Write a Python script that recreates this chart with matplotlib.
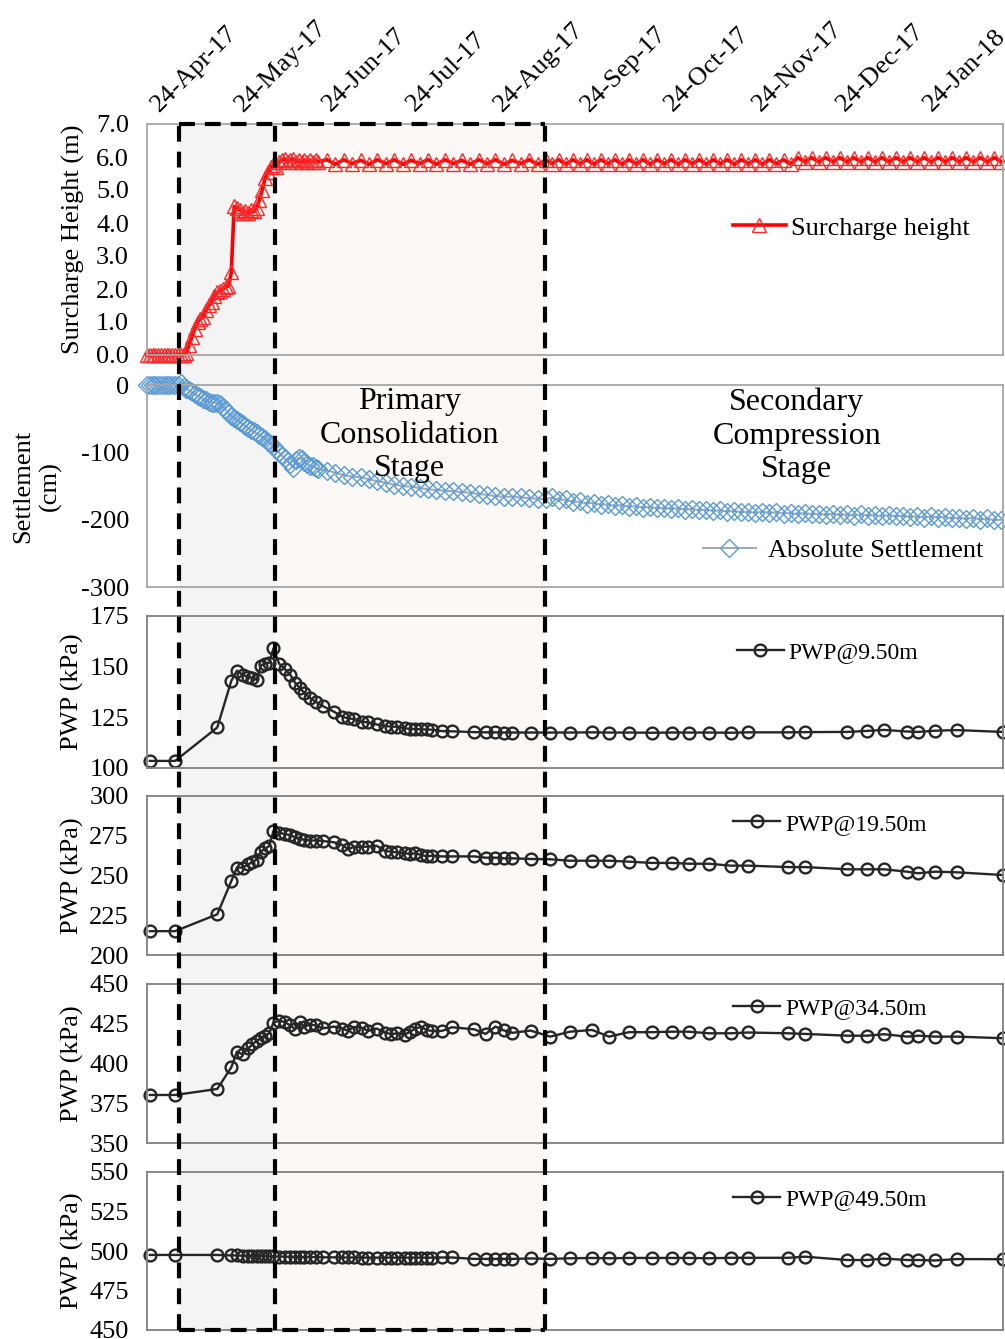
import numpy as np
import matplotlib
matplotlib.use("Agg")
import matplotlib.pyplot as plt
import matplotlib.dates as mdates
from datetime import datetime

plt.rcParams['font.family'] = ['Liberation Serif', 'DejaVu Serif']

# Origine des jours (24-Apr-17)
t0 = mdates.date2num(datetime(2017, 4, 24))

# Jours de mesure (surcharge + tassement)
mon_days = [0, 1, 2, 3, 4, 5, 6, 7, 8, 9, 10, 11, 12, 13,
            14, 15, 16, 17, 18, 19, 20, 21, 22, 23,
            24, 25, 26, 27, 28, 29, 30, 31, 32, 33,
            34, 35, 36, 37, 38, 39, 40, 41, 42, 43,
            44, 45, 46, 47, 48, 49, 50, 51, 52, 53,
            54, 55, 56, 57, 58, 59, 60, 61,
            64, 67, 70, 73, 76, 79, 82, 85, 88, 91, 94, 97, 100, 103,
            106, 109, 112, 115, 118, 121, 124, 127, 130, 133, 136, 139, 142,
            144, 146.5, 149, 151.5, 154, 156.5, 159, 161.5, 164, 166.5,
            169, 171.5, 174, 176.5, 179, 181.5, 184, 186.5, 189, 191.5,
            194, 196.5, 199, 201.5, 204, 206.5, 209, 211.5, 214, 216.5,
            219, 221.5, 224, 226.5, 229, 231.5, 234, 236.5, 239, 241.5,
            244, 246.5, 249, 251.5, 254, 256.5, 259, 261.5, 264, 266.5,
            269, 271.5, 274, 276.5, 279, 281.5, 284, 286.5, 289, 291.5,
            294, 296.5, 299, 301.5, 304]

surcharge = [0, 0, 0, 0, 0, 0, 0, 0, 0, 0, 0, 0, 0, 0,
             0.05, 0.3, 0.55, 0.8, 1.0, 1.1, 1.15, 1.35, 1.5, 1.6,
             1.8, 1.9, 1.95, 2.0, 2.05, 2.1, 2.5, 4.5, 4.45, 4.4,
             4.3, 4.35, 4.3, 4.4, 4.35, 4.45, 4.7, 5.0, 5.35, 5.55,
             5.7, 5.75, 5.7, 5.85, 5.9, 5.95, 5.85, 5.9, 5.95, 5.85,
             5.9, 5.85, 5.9, 5.85, 5.9, 5.85, 5.9, 5.85,
             5.92, 5.78, 5.92, 5.8, 5.9, 5.78, 5.92, 5.8, 5.92, 5.78, 5.9, 5.8, 5.92, 5.78,
             5.92, 5.8, 5.9, 5.78, 5.92, 5.8, 5.92, 5.78, 5.9, 5.8, 5.92, 5.78, 5.9,
             5.8, 5.92, 5.78, 5.92, 5.8, 5.92, 5.78, 5.92, 5.8, 5.92,
             5.78, 5.92, 5.8, 5.92, 5.78, 5.92, 5.8, 5.92, 5.78, 5.92,
             5.8, 5.92, 5.78, 5.92, 5.8, 5.92, 5.78, 5.92, 5.8, 5.92,
             5.78, 5.92, 5.8, 5.92, 5.78, 5.98, 5.86, 5.98, 5.86, 5.98,
             5.86, 5.98, 5.86, 5.98, 5.86, 5.98, 5.86, 5.98, 5.86, 5.98,
             5.86, 5.98, 5.86, 5.98, 5.86, 5.98, 5.86, 5.98, 5.86, 5.98,
             5.86, 5.98, 5.86, 5.98, 5.86]

settlement = [0, 0, 0, 0, 0, 0, 0, 0, 0, 0, 0, 0,
              3, -3, -6, -8, -11, -14, -16, -18, -21, -23,
              -25, -26, -26, -27, -28, -32, -37, -42, -46, -49,
              -52, -55, -58, -61, -64, -67, -69, -72, -74, -77,
              -80, -84, -87, -90, -96, -100, -105, -109, -113, -118,
              -123, -112, -108, -110, -114, -118, -120, -121, -123, -125,
              -127, -130, -134, -136, -137, -140, -143, -145, -148, -150, -151, -153, -155, -156,
              -157, -158, -159, -160, -162, -163, -165, -166, -166, -167, -168, -169, -170,
              -167, -171, -170, -174, -173, -176, -175, -178, -177, -180,
              -178, -181, -180, -182, -181, -183, -182, -184, -183, -185,
              -184, -186, -185, -187, -186, -188, -187, -189, -188, -190,
              -188, -190, -189, -191, -190, -192, -190, -192, -191, -193,
              -191, -193, -192, -194, -192, -194, -193, -195, -193, -195,
              -194, -196, -195, -197, -195, -197, -196, -198, -197, -199,
              -197, -200, -198, -201, -200]

# Pressions interstitielles (PWP)
pwp_days = [1, 10, 25, 30, 32, 34, 36, 37.5, 39, 40.5,
            42, 43.5, 45, 47, 49, 51, 52.7, 54.4, 56, 58,
            60, 62.5, 66.5, 69.5, 71.6, 73.5, 76.4, 78.7, 81.7, 84.7,
            87, 89, 91.8, 93.6, 95.5, 97.5, 99.5, 101.5, 105, 108.5,
            116.5, 120.5, 124, 127, 130, 136.5, 143.5, 150.5, 158.4, 164.4,
            171.5, 179.7, 186.8, 192.8, 199.9, 207.8, 213.9, 228.1, 234.2, 249.1,
            256.2, 262.3, 270.5, 274.4, 280.4, 288.3, 304.5]

pwp_950 = [103.5, 103.5, 120, 143, 148, 146, 145, 144.5, 143.5, 150.5,
           151.5, 152, 159, 151.5, 149, 146, 142, 139.5, 137, 134.5,
           132.7, 130.6, 127.8, 125.3, 124.5, 124.2, 122.8, 122.5, 121.5, 120.7,
           120.4, 120.4, 119.6, 119.3, 119.2, 119.1, 119, 118.9, 118.2, 118.1,
           117.7, 117.6, 117.6, 117.5, 117.5, 117.5, 117.5, 117.5, 117.6, 117.5,
           117.5, 117.4, 117.5, 117.5, 117.5, 117.4, 117.6, 117.6, 117.7, 117.8,
           118.3, 118.8, 118.0, 117.8, 118.4, 118.7, 117.8]

pwp_1950 = [215, 215, 225.6, 246.5, 255, 255, 257, 258.5, 260, 265,
            267, 268.5, 278, 277, 276, 275.5, 274, 273, 272.5, 272,
            272, 271.7, 270.9, 269.2, 266.5, 268, 268, 268.2, 268.7, 265.4,
            265, 264.5, 264, 263.5, 264, 263, 262, 262.5, 262, 262,
            262, 261.2, 261.2, 260.8, 260.8, 260.4, 260.2, 259.3, 259.3, 259.3,
            258.7, 257.9, 257.9, 257.4, 257.4, 256.2, 256.2, 255.3, 255.3, 253.9,
            253.9, 253.9, 252.4, 251.4, 252.4, 252, 250.3]

pwp_3450 = [380.2, 380.2, 384, 397.6, 407.4, 405.8, 409.5, 412, 414.3, 416,
            417.5, 419, 425.7, 427, 426, 424, 421.5, 426, 423, 424.5,
            424, 422.1, 423.2, 422, 420.5, 423, 422.5, 420.5, 422, 419.4,
            418.5, 419, 418.2, 420, 422, 423, 421, 420.5, 420.5, 422.8,
            421.5, 418.6, 423.2, 420.8, 419.3, 420.7, 416.9, 420, 421.1, 416.9,
            419.7, 419.7, 420, 420, 419, 419, 419.5, 419, 418.6, 417.5,
            417.5, 418.4, 416.9, 417.5, 416.9, 416.9, 415.9]

pwp_4950 = [497.5, 497.5, 497.5, 497.2, 497.2, 497, 497, 497, 496.8, 496.8,
            496.7, 496.6, 496.6, 496.5, 496.4, 496.4, 496.3, 496.3, 496.2, 496.2,
            496.1, 496, 496, 495.9, 495.9, 495.9, 495.8, 495.8, 495.8, 495.8,
            495.8, 495.8, 495.8, 495.8, 495.8, 495.8, 495.8, 495.8, 495.9, 495.9,
            495, 495, 495, 495, 495, 495.3, 495, 495.4, 495.6, 495.4,
            495.6, 495.6, 495.6, 495.6, 495.4, 495.7, 495.7, 495.7, 496.4, 494.3,
            494.3, 495.2, 494.3, 494.3, 494, 494.9, 494.8]

# Limites des phases (jours)
stage_days = [11.4, 45.5, 141.6]
x_end = 304.6

tick_dates = [datetime(2017, m, 24) for m in range(4, 13)] + [datetime(2018, 1, 24)]

x_mon = t0 + np.array(mon_days)
x_pwp = t0 + np.array(pwp_days)
xs = [t0 + d for d in stage_days]

fig = plt.figure(figsize=(10.05, 13.39), dpi=100)
L, W = 147 / 1005, 856 / 1005


def box(top, bot):
    return [L, 1 - bot / 1339, W, (bot - top) / 1339]


# fond : zones ombrées
ax_bg = fig.add_axes(box(124, 1330))
ax_bg.set_xlim(t0, t0 + x_end)
ax_bg.axvspan(xs[0], xs[1], color='#F4F4F4', lw=0)
ax_bg.axvspan(xs[1], xs[2], color='#FCF8F5', lw=0)
ax_bg.axis('off')
ax_bg.set_zorder(0)

panels = [(124, 355), (385, 587), (616, 768), (796, 955), (984, 1143), (1172, 1330)]
axes = []
for i, (top, bot) in enumerate(panels):
    ax = fig.add_axes(box(top, bot))
    ax.set_facecolor('none')
    ax.set_zorder(1)
    ax.set_xlim(t0, t0 + x_end)
    ax.tick_params(axis='both', length=0, labelsize=19, pad=13)
    col = '#A6A6A6' if i < 2 else '#808080'
    for s in ax.spines.values():
        s.set_color(col)
        s.set_linewidth(1.3)
    axes.append(ax)

ax1, ax2, ax3, ax4, ax5, ax6 = axes

# Surcharge
ax1.plot(x_mon, surcharge, color='#FF0000', lw=2.6, marker='^', ms=10,
         mfc='none', mec='#FF2828', mew=1.0, clip_on=False, label='Surcharge height')
ax1.set_ylim(0, 7)
ax1.set_yticks(np.arange(0, 7.1, 1.0))
ax1.set_yticklabels([f'{v:.1f}' for v in np.arange(0, 7.1, 1.0)])
ax1.set_ylabel('Surcharge Height (m)', fontsize=19)
ax1.yaxis.set_label_coords(-0.072, 0.5)
ax1.xaxis.tick_top()
ax1.set_xticks([mdates.date2num(d) for d in tick_dates])
ax1.set_xticklabels([d.strftime('%d-%b-%y') for d in tick_dates], rotation=45,
                    ha='left', va='top', rotation_mode='anchor', fontsize=19)
ax1.tick_params(axis='x', pad=17)
ax1.legend(loc='center left', bbox_to_anchor=(0.6846, 0.55), frameon=False, fontsize=19,
           handlelength=2.0, handletextpad=0.2, borderpad=0, borderaxespad=0)

# Tassement
ax2.plot(x_mon, settlement, color='#9FAABB', lw=1.5, marker='D', ms=9,
         mfc='none', mec='#5B9BD5', mew=1.0, clip_on=False, label='Absolute Settlement')
ax2.set_ylim(-300, 0)
ax2.set_yticks([-300, -200, -100, 0])
ax2.set_yticklabels(['-300', '-200', '-100', '0'])
ax2.set_ylabel('Settlement\n(cm)', fontsize=19, linespacing=1.3)
ax2.yaxis.set_label_coords(-0.099, 0.5)
ax2.legend(loc='center left', bbox_to_anchor=(0.6495, 0.183), frameon=False, fontsize=19,
           handlelength=2.0, handletextpad=0.45, borderpad=0, borderaxespad=0)
ax2.text(0.307, 0.752, 'Primary\nConsolidation\nStage', transform=ax2.transAxes,
         ha='center', va='center', fontsize=23, linespacing=1.22, zorder=10)
ax2.text(0.759, 0.748, 'Secondary\nCompression\nStage', transform=ax2.transAxes,
         ha='center', va='center', fontsize=23, linespacing=1.22, zorder=10)

# PWP
pwp_series = [(ax3, pwp_950, 'PWP@9.50m', (100, 175), (0.689, 0.763)),
              (ax4, pwp_1950, 'PWP@19.50m', (200, 300), (0.6846, 0.824)),
              (ax5, pwp_3450, 'PWP@34.50m', (350, 450), (0.6846, 0.849)),
              (ax6, pwp_4950, 'PWP@49.50m', (450, 550), (0.6846, 0.829))]
for ax, vals, lab, (lo, hi), anchor in pwp_series:
    ax.plot(x_pwp, vals, color='#262626', lw=1.7, marker='o', ms=8.5,
            mfc='none', mec='#262626', mew=1.7, clip_on=False, label=lab)
    ax.set_ylim(lo, hi)
    ax.set_yticks(np.arange(lo, hi + 1, 25))
    ax.set_ylabel('PWP (kPa)', fontsize=19)
    ax.yaxis.set_label_coords(-0.074, 0.5)
    ax.legend(loc='center left', bbox_to_anchor=anchor, frameon=False, fontsize=17,
              handlelength=2.0, handletextpad=0.2, borderpad=0, borderaxespad=0)

for ax in axes[1:]:
    ax.set_xticks([])

# Cadre en pointillés
ax_ov = fig.add_axes(box(124, 1330))
ax_ov.set_xlim(t0, t0 + x_end)
ax_ov.set_ylim(0, 1)
ax_ov.axis('off')
ax_ov.set_zorder(5)
dash_kw = dict(color='black', lw=3.0, dashes=(3.8, 2.4), clip_on=False)
for x in xs:
    ax_ov.plot([x, x], [0, 1], **dash_kw)
ax_ov.plot([xs[0], xs[2]], [1, 1], **dash_kw)
ax_ov.plot([xs[0], xs[2]], [0, 0], **dash_kw)

fig.savefig('out.png', dpi=100)
